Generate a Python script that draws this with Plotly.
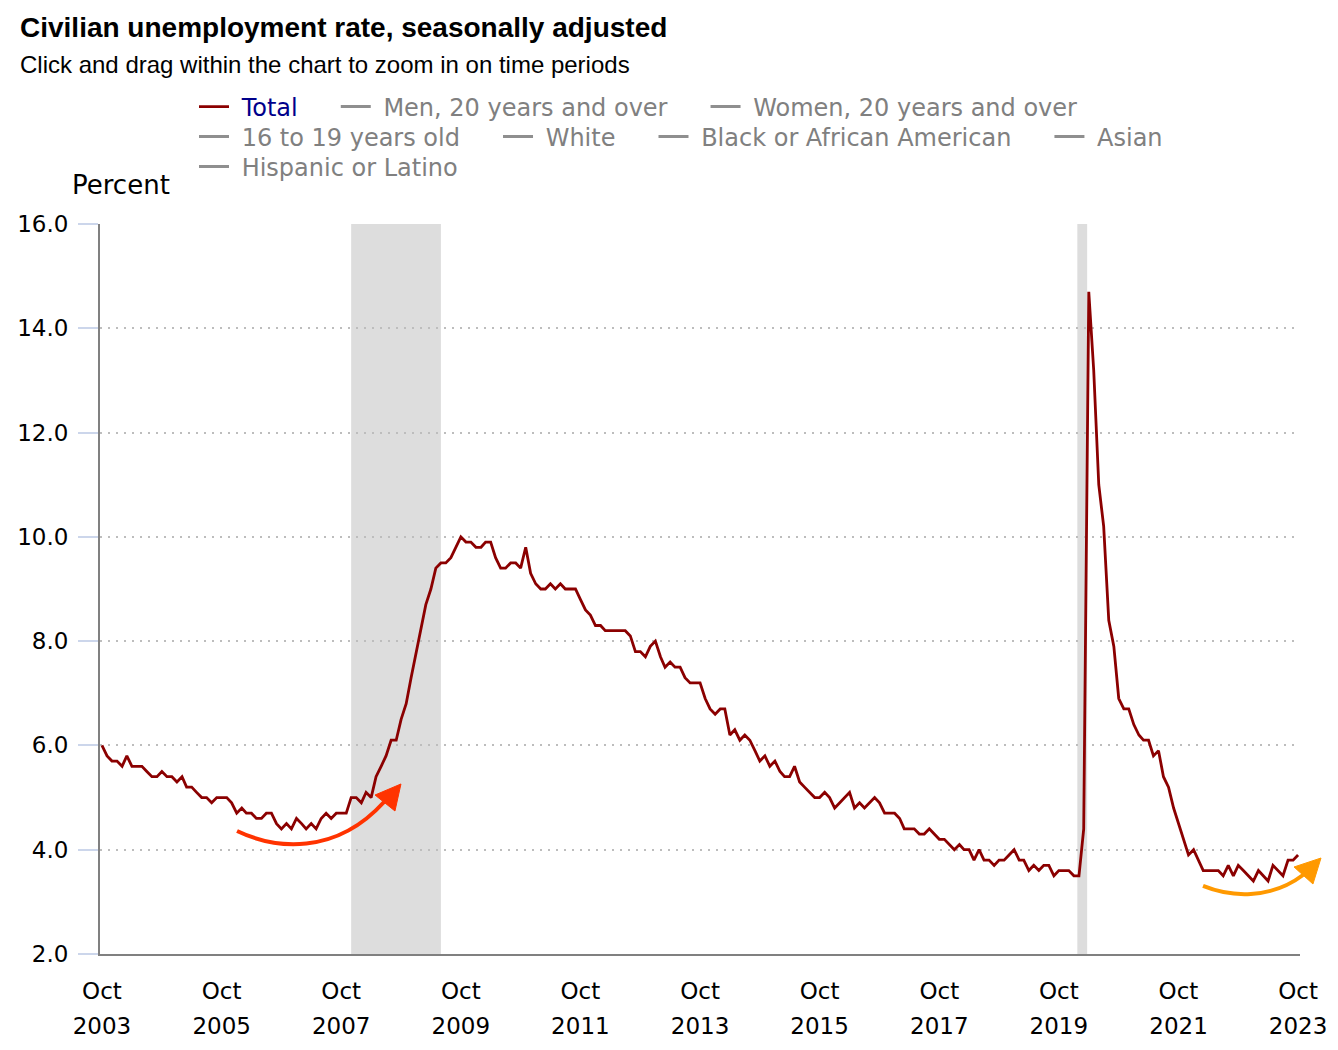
import pandas as pd
import plotly.graph_objects as go

# ---------------- data ----------------
start_month = "2003-10-01"
rate_2003 = [6.0, 5.8, 5.7]
rate_2004 = [5.7, 5.6, 5.8, 5.6, 5.6, 5.6, 5.5, 5.4, 5.4, 5.5, 5.4, 5.4]
rate_2005 = [5.3, 5.4, 5.2, 5.2, 5.1, 5.0, 5.0, 4.9, 5.0, 5.0, 5.0, 4.9]
rate_2006 = [4.7, 4.8, 4.7, 4.7, 4.6, 4.6, 4.7, 4.7, 4.5, 4.4, 4.5, 4.4]
rate_2007 = [4.6, 4.5, 4.4, 4.5, 4.4, 4.6, 4.7, 4.6, 4.7, 4.7, 4.7, 5.0]
rate_2008 = [5.0, 4.9, 5.1, 5.0, 5.4, 5.6, 5.8, 6.1, 6.1, 6.5, 6.8, 7.3]
rate_2009 = [7.8, 8.3, 8.7, 9.0, 9.4, 9.5, 9.5, 9.6, 9.8, 10.0, 9.9, 9.9]
rate_2010 = [9.8, 9.8, 9.9, 9.9, 9.6, 9.4, 9.4, 9.5, 9.5, 9.4, 9.8, 9.3]
rate_2011 = [9.1, 9.0, 9.0, 9.1, 9.0, 9.1, 9.0, 9.0, 9.0, 8.8, 8.6, 8.5]
rate_2012 = [8.3, 8.3, 8.2, 8.2, 8.2, 8.2, 8.2, 8.1, 7.8, 7.8, 7.7, 7.9]
rate_2013 = [8.0, 7.7, 7.5, 7.6, 7.5, 7.5, 7.3, 7.2, 7.2, 7.2, 6.9, 6.7]
rate_2014 = [6.6, 6.7, 6.7, 6.2, 6.3, 6.1, 6.2, 6.1, 5.9, 5.7, 5.8, 5.6]
rate_2015 = [5.7, 5.5, 5.4, 5.4, 5.6, 5.3, 5.2, 5.1, 5.0, 5.0, 5.1, 5.0]
rate_2016 = [4.8, 4.9, 5.0, 5.1, 4.8, 4.9, 4.8, 4.9, 5.0, 4.9, 4.7, 4.7]
rate_2017 = [4.7, 4.6, 4.4, 4.4, 4.4, 4.3, 4.3, 4.4, 4.3, 4.2, 4.2, 4.1]
rate_2018 = [4.0, 4.1, 4.0, 4.0, 3.8, 4.0, 3.8, 3.8, 3.7, 3.8, 3.8, 3.9]
rate_2019 = [4.0, 3.8, 3.8, 3.6, 3.7, 3.6, 3.7, 3.7, 3.5, 3.6, 3.6, 3.6]
rate_2020 = [3.5, 3.5, 4.4, 14.7, 13.2, 11.0, 10.2, 8.4, 7.9, 6.9, 6.7, 6.7]
rate_2021 = [6.4, 6.2, 6.1, 6.1, 5.8, 5.9, 5.4, 5.2, 4.8, 4.5, 4.2, 3.9]
rate_2022 = [4.0, 3.8, 3.6, 3.6, 3.6, 3.6, 3.5, 3.7, 3.5, 3.7, 3.6, 3.5]
rate_2023 = [3.4, 3.6, 3.5, 3.4, 3.7, 3.6, 3.5, 3.8, 3.8, 3.9]

total_rate = (rate_2003 + rate_2004 + rate_2005 + rate_2006 + rate_2007 + rate_2008
              + rate_2009 + rate_2010 + rate_2011 + rate_2012 + rate_2013 + rate_2014
              + rate_2015 + rate_2016 + rate_2017 + rate_2018 + rate_2019 + rate_2020
              + rate_2021 + rate_2022 + rate_2023)
months = pd.date_range(start_month, periods=len(total_rate), freq="MS")

recession_starts = ["2007-12-01", "2020-01-22"]
recession_ends = ["2009-06-01", "2020-03-22"]

tick_years = [2003, 2005, 2007, 2009, 2011, 2013, 2015, 2017, 2019, 2021, 2023]
tick_month_label = "Oct"

legend_rows = [
    ["Total", "Men, 20 years and over", "Women, 20 years and over"],
    ["16 to 19 years old", "White", "Black or African American", "Asian"],
    ["Hispanic or Latino"],
]

x_range = ["2003-09-19", "2023-10-13"]
y_range = [2, 16]

# ---------------- styling ----------------
LINE_RED = "#8b0000"
GREY_TXT = "#808080"
VERD = "DejaVu Sans, Verdana, sans-serif"
ARIAL = "Liberation Sans, Arial, Helvetica, sans-serif"
NB = "\u00a0"
LEAD = NB
PAD = "<span style='font-size:26px'>" + NB * 4 + "</span>"

OFF = 8  # page body margin
W, H = 1338 - OFF, 1050 - OFF
# plot area in page pixels: x 100..1300, y 224..954
M_L, M_R, M_T, M_B = 100 - OFF, 38, 224 - OFF, 96
PW, PH = W - M_L - M_R, H - M_T - M_B


def px_to_paper(px, py):
    return (px - OFF - M_L) / PW, (H - M_B - (py - OFF)) / PH


fig = go.Figure()

legend_ids = ["legend", "legend2", "legend3"]
for row_i, row in enumerate(legend_rows):
    for name in row:
        if name == "Total":
            fig.add_trace(go.Scatter(
                x=months, y=total_rate, mode="lines",
                name=LEAD + "<span style='color:#00008b'>Total</span>" + PAD,
                line=dict(color=LINE_RED, width=2.8),
                legend=legend_ids[row_i],
            ))
        else:
            # series not selected: listed in the legend, no values drawn
            fig.add_trace(go.Scatter(
                x=[months[0]], y=[None], mode="lines", name=LEAD + name + PAD,
                line=dict(color="#8f8f8f", width=3),
                legend=legend_ids[row_i], hoverinfo="skip",
            ))

# overlaying axis for the year line of the tick labels
fig.add_trace(go.Scatter(x=[months[0]], y=[None], xaxis="x2", showlegend=False,
                         hoverinfo="skip"))

# recession shading
for s, e in zip(recession_starts, recession_ends):
    fig.add_shape(type="rect", xref="x", yref="paper", x0=s, x1=e, y0=0, y1=1,
                  fillcolor="#dddddd", line=dict(width=0), layer="below")


def bezier_path(p0, c1, c2, p1):
    pts = [px_to_paper(*p) for p in (p0, c1, c2, p1)]
    return "M{:.4f},{:.4f} C{:.4f},{:.4f} {:.4f},{:.4f} {:.4f},{:.4f}".format(
        pts[0][0], pts[0][1], pts[1][0], pts[1][1], pts[2][0], pts[2][1], pts[3][0], pts[3][1])


def tri_path(a, b, c):
    pts = [px_to_paper(*p) for p in (a, b, c)]
    return "M{:.4f},{:.4f} L{:.4f},{:.4f} L{:.4f},{:.4f} Z".format(
        pts[0][0], pts[0][1], pts[1][0], pts[1][1], pts[2][0], pts[2][1])


arrows = [
    dict(color="#ff3300", body=((237, 831), (275, 849), (335, 856), (384, 802)),
         head=((375, 795), (401, 784), (395, 811))),
    dict(color="#ff9900", body=((1203, 886), (1230, 897), (1270, 900), (1303, 875)),
         head=((1294, 867), (1321, 858), (1313, 884))),
]
for a in arrows:
    fig.add_shape(type="path", xref="paper", yref="paper", path=bezier_path(*a["body"]),
                  line=dict(color=a["color"], width=4), fillcolor="rgba(0,0,0,0)")
    fig.add_shape(type="path", xref="paper", yref="paper", path=tri_path(*a["head"]),
                  line=dict(color=a["color"], width=1), fillcolor=a["color"])

tickvals = [f"{y}-10-01" for y in tick_years]

fig.update_layout(
    width=W, height=H,
    margin=dict(l=M_L, r=M_R, t=M_T, b=M_B, autoexpand=False),
    paper_bgcolor="white", plot_bgcolor="white",
    title=dict(text="<b>Civilian unemployment rate, seasonally adjusted</b>",
               x=(20 - OFF) / W, xanchor="left", xref="container",
               y=1 - (27 - OFF) / H, yanchor="middle", yref="container",
               font=dict(family=ARIAL, size=28, color="black")),
    xaxis=dict(range=x_range, type="date", tickvals=tickvals,
               ticktext=[tick_month_label] * len(tick_years),
               ticks="", showgrid=False, showline=True, linecolor="#808080", linewidth=2,
               zeroline=False, tickfont=dict(family=VERD, size=23, color="black"),
               ticklabelstandoff=15),
    xaxis2=dict(range=x_range, type="date", overlaying="x", anchor="y", side="bottom",
                tickvals=tickvals, ticktext=[str(y) for y in tick_years],
                ticks="", showgrid=False, showline=False, zeroline=False,
                tickfont=dict(family=VERD, size=23, color="black"),
                ticklabelstandoff=56),
    yaxis=dict(range=y_range, dtick=2, tick0=2, tickformat=".1f",
               ticks="outside", ticklen=20, tickcolor="#ccd6eb", tickwidth=2,
               showline=True, linecolor="#808080", linewidth=2,
               showgrid=True, gridcolor="#bdbdbd", griddash="2px,6px", gridwidth=2,
               zeroline=False, tickfont=dict(family=VERD, size=23, color="black"),
               ticklabelstandoff=5),
    showlegend=True,
    annotations=[
        dict(text="Click and drag within the chart to zoom in on time periods",
             xref="paper", yref="paper", x=px_to_paper(18, 64)[0], y=px_to_paper(18, 64)[1],
             xanchor="left", yanchor="middle", showarrow=False,
             font=dict(family=ARIAL, size=24, color="black")),
        dict(text="Percent", xref="paper", yref="paper",
             x=px_to_paper(70, 185)[0], y=px_to_paper(70, 185)[1],
             xanchor="left", yanchor="middle", showarrow=False,
             font=dict(family=VERD, size=26, color="black")),
    ],
)

legend_common = dict(orientation="h", xanchor="left", yanchor="middle",
                     font=dict(family=VERD, size=24, color=GREY_TXT),
                     bgcolor="rgba(0,0,0,0)", itemwidth=30, borderwidth=0,
                     itemclick=False, itemdoubleclick=False)
row_centers = [107, 137, 167]
for lid, cy in zip(legend_ids, row_centers):
    lx, ly = px_to_paper(194, cy)
    fig.update_layout({lid: dict(x=lx, y=ly, **legend_common)})

fig.write_html("out.html")
